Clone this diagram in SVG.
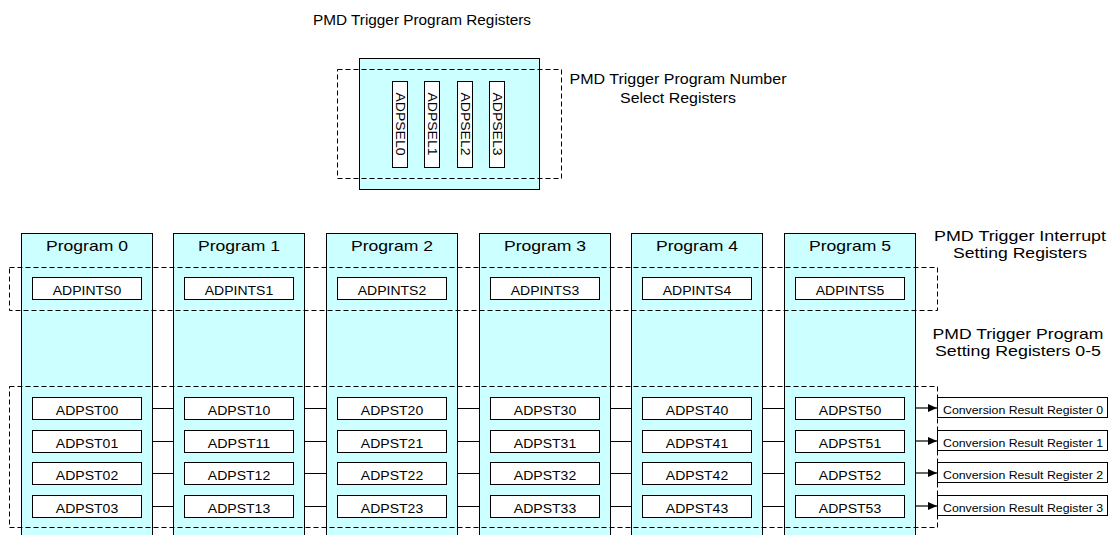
<svg xmlns="http://www.w3.org/2000/svg" width="1112" height="535" viewBox="0 0 1112 535">
<defs>
<style>
.t{font-family:"Liberation Sans",Arial,sans-serif;fill:#000;text-anchor:middle}
.big{font-size:15px}
.top{font-size:14px}
.reg{font-size:12px}
.crr{font-size:10.5px}
.col{fill:#ccffff;stroke:#000;stroke-width:1}
.box{fill:#fff;stroke:#000;stroke-width:1}
.dash{fill:none;stroke:#000;stroke-width:1;stroke-dasharray:5,3}
.ln{stroke:#000;stroke-width:1.2;fill:none}
</style>
<marker id="ah" markerWidth="10" markerHeight="10" refX="9" refY="5" orient="auto" markerUnits="userSpaceOnUse">
<path d="M0,1 L9,5 L0,9 Z" fill="#000"/>
</marker>
</defs>
<rect width="1112" height="535" fill="#fff"/>

<text class="t top" x="422" y="25" textLength="218" lengthAdjust="spacingAndGlyphs">PMD Trigger Program Registers</text>

<g id="sel">
<rect class="col" x="359.5" y="58.5" width="180" height="131"/>
<rect class="box" x="392.5" y="81.5" width="15" height="86"/>
<rect class="box" x="424.5" y="81.5" width="15" height="86"/>
<rect class="box" x="457.5" y="81.5" width="15" height="86"/>
<rect class="box" x="489.5" y="81.5" width="15" height="86"/>
<text class="t reg" transform="translate(396,124) rotate(90)" textLength="63" lengthAdjust="spacingAndGlyphs">ADPSEL0</text>
<text class="t reg" transform="translate(428,124) rotate(90)" textLength="63" lengthAdjust="spacingAndGlyphs">ADPSEL1</text>
<text class="t reg" transform="translate(461,124) rotate(90)" textLength="63" lengthAdjust="spacingAndGlyphs">ADPSEL2</text>
<text class="t reg" transform="translate(493,124) rotate(90)" textLength="63" lengthAdjust="spacingAndGlyphs">ADPSEL3</text>
</g>

<g id="p0">
<rect class="col" x="21.5" y="233.5" width="131" height="310"/>
<text class="t big" x="87" y="251" textLength="82" lengthAdjust="spacingAndGlyphs">Program 0</text>
<rect class="box" x="32.5" y="277.5" width="109" height="22"/>
<text class="t reg" x="87" y="295" textLength="68.5" lengthAdjust="spacingAndGlyphs">ADPINTS0</text>
<rect class="box" x="32.5" y="397.5" width="109" height="22"/>
<text class="t reg" x="87" y="415" textLength="62.4" lengthAdjust="spacingAndGlyphs">ADPST00</text>
<rect class="box" x="32.5" y="430.5" width="109" height="22"/>
<text class="t reg" x="87" y="448" textLength="62.4" lengthAdjust="spacingAndGlyphs">ADPST01</text>
<rect class="box" x="32.5" y="462.5" width="109" height="22"/>
<text class="t reg" x="87" y="480" textLength="62.4" lengthAdjust="spacingAndGlyphs">ADPST02</text>
<rect class="box" x="32.5" y="495.5" width="109" height="22"/>
<text class="t reg" x="87" y="513" textLength="62.4" lengthAdjust="spacingAndGlyphs">ADPST03</text>
</g>

<g id="p1">
<rect class="col" x="173.5" y="233.5" width="131" height="310"/>
<text class="t big" x="239" y="251" textLength="82" lengthAdjust="spacingAndGlyphs">Program 1</text>
<rect class="box" x="184.5" y="277.5" width="109" height="22"/>
<text class="t reg" x="239" y="295" textLength="68.5" lengthAdjust="spacingAndGlyphs">ADPINTS1</text>
<rect class="box" x="184.5" y="397.5" width="109" height="22"/>
<text class="t reg" x="239" y="415" textLength="62.4" lengthAdjust="spacingAndGlyphs">ADPST10</text>
<rect class="box" x="184.5" y="430.5" width="109" height="22"/>
<text class="t reg" x="239" y="448" textLength="62.4" lengthAdjust="spacingAndGlyphs">ADPST11</text>
<rect class="box" x="184.5" y="462.5" width="109" height="22"/>
<text class="t reg" x="239" y="480" textLength="62.4" lengthAdjust="spacingAndGlyphs">ADPST12</text>
<rect class="box" x="184.5" y="495.5" width="109" height="22"/>
<text class="t reg" x="239" y="513" textLength="62.4" lengthAdjust="spacingAndGlyphs">ADPST13</text>
</g>

<g id="p2">
<rect class="col" x="326.5" y="233.5" width="131" height="310"/>
<text class="t big" x="392" y="251" textLength="82" lengthAdjust="spacingAndGlyphs">Program 2</text>
<rect class="box" x="337.5" y="277.5" width="109" height="22"/>
<text class="t reg" x="392" y="295" textLength="68.5" lengthAdjust="spacingAndGlyphs">ADPINTS2</text>
<rect class="box" x="337.5" y="397.5" width="109" height="22"/>
<text class="t reg" x="392" y="415" textLength="62.4" lengthAdjust="spacingAndGlyphs">ADPST20</text>
<rect class="box" x="337.5" y="430.5" width="109" height="22"/>
<text class="t reg" x="392" y="448" textLength="62.4" lengthAdjust="spacingAndGlyphs">ADPST21</text>
<rect class="box" x="337.5" y="462.5" width="109" height="22"/>
<text class="t reg" x="392" y="480" textLength="62.4" lengthAdjust="spacingAndGlyphs">ADPST22</text>
<rect class="box" x="337.5" y="495.5" width="109" height="22"/>
<text class="t reg" x="392" y="513" textLength="62.4" lengthAdjust="spacingAndGlyphs">ADPST23</text>
</g>

<g id="p3">
<rect class="col" x="479.5" y="233.5" width="131" height="310"/>
<text class="t big" x="545" y="251" textLength="82" lengthAdjust="spacingAndGlyphs">Program 3</text>
<rect class="box" x="490.5" y="277.5" width="109" height="22"/>
<text class="t reg" x="545" y="295" textLength="68.5" lengthAdjust="spacingAndGlyphs">ADPINTS3</text>
<rect class="box" x="490.5" y="397.5" width="109" height="22"/>
<text class="t reg" x="545" y="415" textLength="62.4" lengthAdjust="spacingAndGlyphs">ADPST30</text>
<rect class="box" x="490.5" y="430.5" width="109" height="22"/>
<text class="t reg" x="545" y="448" textLength="62.4" lengthAdjust="spacingAndGlyphs">ADPST31</text>
<rect class="box" x="490.5" y="462.5" width="109" height="22"/>
<text class="t reg" x="545" y="480" textLength="62.4" lengthAdjust="spacingAndGlyphs">ADPST32</text>
<rect class="box" x="490.5" y="495.5" width="109" height="22"/>
<text class="t reg" x="545" y="513" textLength="62.4" lengthAdjust="spacingAndGlyphs">ADPST33</text>
</g>

<g id="p4">
<rect class="col" x="631.5" y="233.5" width="131" height="310"/>
<text class="t big" x="697" y="251" textLength="82" lengthAdjust="spacingAndGlyphs">Program 4</text>
<rect class="box" x="642.5" y="277.5" width="109" height="22"/>
<text class="t reg" x="697" y="295" textLength="68.5" lengthAdjust="spacingAndGlyphs">ADPINTS4</text>
<rect class="box" x="642.5" y="397.5" width="109" height="22"/>
<text class="t reg" x="697" y="415" textLength="62.4" lengthAdjust="spacingAndGlyphs">ADPST40</text>
<rect class="box" x="642.5" y="430.5" width="109" height="22"/>
<text class="t reg" x="697" y="448" textLength="62.4" lengthAdjust="spacingAndGlyphs">ADPST41</text>
<rect class="box" x="642.5" y="462.5" width="109" height="22"/>
<text class="t reg" x="697" y="480" textLength="62.4" lengthAdjust="spacingAndGlyphs">ADPST42</text>
<rect class="box" x="642.5" y="495.5" width="109" height="22"/>
<text class="t reg" x="697" y="513" textLength="62.4" lengthAdjust="spacingAndGlyphs">ADPST43</text>
</g>

<g id="p5">
<rect class="col" x="784.5" y="233.5" width="131" height="310"/>
<text class="t big" x="850" y="251" textLength="82" lengthAdjust="spacingAndGlyphs">Program 5</text>
<rect class="box" x="795.5" y="277.5" width="109" height="22"/>
<text class="t reg" x="850" y="295" textLength="68.5" lengthAdjust="spacingAndGlyphs">ADPINTS5</text>
<rect class="box" x="795.5" y="397.5" width="109" height="22"/>
<text class="t reg" x="850" y="415" textLength="62.4" lengthAdjust="spacingAndGlyphs">ADPST50</text>
<rect class="box" x="795.5" y="430.5" width="109" height="22"/>
<text class="t reg" x="850" y="448" textLength="62.4" lengthAdjust="spacingAndGlyphs">ADPST51</text>
<rect class="box" x="795.5" y="462.5" width="109" height="22"/>
<text class="t reg" x="850" y="480" textLength="62.4" lengthAdjust="spacingAndGlyphs">ADPST52</text>
<rect class="box" x="795.5" y="495.5" width="109" height="22"/>
<text class="t reg" x="850" y="513" textLength="62.4" lengthAdjust="spacingAndGlyphs">ADPST53</text>
</g>

<g id="crr">
<rect class="box" x="937.5" y="397.5" width="170" height="20"/>
<text class="t crr" x="1023" y="414" textLength="160" lengthAdjust="spacingAndGlyphs">Conversion Result Register 0</text>
<rect class="box" x="937.5" y="430.5" width="170" height="20"/>
<text class="t crr" x="1023" y="447" textLength="160" lengthAdjust="spacingAndGlyphs">Conversion Result Register 1</text>
<rect class="box" x="937.5" y="462.5" width="170" height="20"/>
<text class="t crr" x="1023" y="479" textLength="160" lengthAdjust="spacingAndGlyphs">Conversion Result Register 2</text>
<rect class="box" x="937.5" y="495.5" width="170" height="20"/>
<text class="t crr" x="1023" y="512" textLength="160" lengthAdjust="spacingAndGlyphs">Conversion Result Register 3</text>
</g>

<g id="connectors">
<path class="ln" d="M152,408.5H174M152,441.5H174M152,473.5H174M152,506.5H174"/>
<path class="ln" d="M305,408.5H327M305,441.5H327M305,473.5H327M305,506.5H327"/>
<path class="ln" d="M458,408.5H480M458,441.5H480M458,473.5H480M458,506.5H480"/>
<path class="ln" d="M611,408.5H632M611,441.5H632M611,473.5H632M611,506.5H632"/>
<path class="ln" d="M763,408.5H785M763,441.5H785M763,473.5H785M763,506.5H785"/>
<line class="ln" x1="916" y1="408" x2="937" y2="408" marker-end="url(#ah)"/>
<line class="ln" x1="916" y1="441" x2="937" y2="441" marker-end="url(#ah)"/>
<line class="ln" x1="916" y1="473" x2="937" y2="473" marker-end="url(#ah)"/>
<line class="ln" x1="916" y1="506" x2="937" y2="506" marker-end="url(#ah)"/>
</g>

<g id="groups">
<rect class="dash" x="337.5" y="69.5" width="224" height="109"/>
<rect class="dash" x="9.5" y="267.5" width="928" height="43"/>
<rect class="dash" x="9.5" y="386.5" width="928" height="141"/>
</g>

<g id="labels">
<text class="t top" x="678" y="84" textLength="217" lengthAdjust="spacingAndGlyphs">PMD Trigger Program Number</text>
<text class="t top" x="678" y="103" textLength="116" lengthAdjust="spacingAndGlyphs">Select Registers</text>
<text class="t big" x="1020" y="241" textLength="172" lengthAdjust="spacingAndGlyphs">PMD Trigger Interrupt</text>
<text class="t big" x="1020" y="258" textLength="134" lengthAdjust="spacingAndGlyphs">Setting Registers</text>
<text class="t big" x="1018" y="339" textLength="171" lengthAdjust="spacingAndGlyphs">PMD Trigger Program</text>
<text class="t big" x="1018" y="356" textLength="166" lengthAdjust="spacingAndGlyphs">Setting Registers 0-5</text>
</g>
</svg>
